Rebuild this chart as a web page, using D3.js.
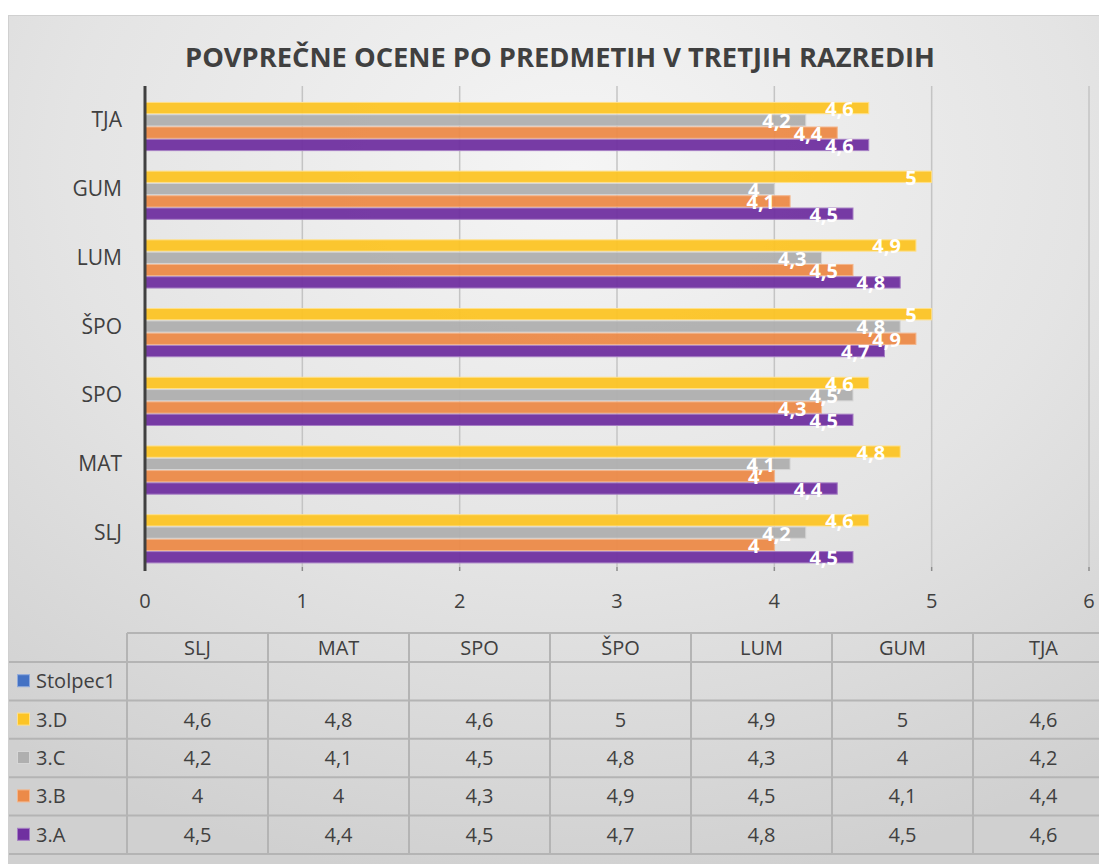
<!DOCTYPE html>
<html>
<head>
<meta charset="utf-8">
<script src="https://cdn.jsdelivr.net/npm/d3@7"></script>
<style>
  body { margin: 0; background: #fff; }
  svg { display: block; font-family: "Open Sans", "DejaVu Sans", sans-serif; }
</style>
</head>
<body>
<svg id="chart" width="1099" height="864"></svg>
<script>

// subjects (bottom to top in the chart, left to right in the table)
var subjects = ["SLJ", "MAT", "SPO", "ŠPO", "LUM", "GUM", "TJA"];

// series in table order (Stolpec1 has no values)
var seriesNames = ["Stolpec1", "3.D", "3.C", "3.B", "3.A"];
var seriesColours = ["#4472c4", "#fcc425", "#afafaf", "#ec8a48", "#7030a0"];
var seriesStrokes = ["#8faadc", "#ffe08a", "#d6d6d6", "#f4b68c", "#a67fc4"];

var valuesStolpec1 = [null, null, null, null, null, null, null];
var values3D = [4.6, 4.8, 4.6, 5, 4.9, 5, 4.6];
var values3C = [4.2, 4.1, 4.5, 4.8, 4.3, 4, 4.2];
var values3B = [4, 4, 4.3, 4.9, 4.5, 4.1, 4.4];
var values3A = [4.5, 4.4, 4.5, 4.7, 4.8, 4.5, 4.6];

var xTicks = [0, 1, 2, 3, 4, 5, 6];

var seriesValues = [valuesStolpec1, values3D, values3C, values3B, values3A];

var svg = d3.select("#chart");
var W = 1099, H = 864;
var textColour = "#404040";

function fmt(v) { return v == null ? "" : String(v).replace(".", ","); }

// background
var defs = svg.append("defs");
var grad = defs.append("radialGradient")
    .attr("id", "bg")
    .attr("cx", "52%").attr("cy", "18%").attr("r", "85%");
grad.append("stop").attr("offset", "0%").attr("stop-color", "#f5f5f5");
grad.append("stop").attr("offset", "55%").attr("stop-color", "#e4e4e4");
grad.append("stop").attr("offset", "100%").attr("stop-color", "#d0d0d0");

svg.append("rect")
    .attr("x", 8.5).attr("y", 15.5)
    .attr("width", W - 8).attr("height", H - 15)
    .attr("fill", "url(#bg)")
    .attr("stroke", "#d0d0d0");

// title
svg.append("text")
    .attr("x", 560).attr("y", 67)
    .attr("text-anchor", "middle")
    .attr("font-size", 26).attr("font-weight", "bold")
    .attr("fill", textColour)
    .attr("textLength", 750).attr("lengthAdjust", "spacingAndGlyphs")
    .text("POVPREČNE OCENE PO PREDMETIH V TRETJIH RAZREDIH");

// scales
var x = d3.scaleLinear().domain([0, 6]).range([145, 1089]);
var plotTop = 86, plotBottom = 567;

var y = d3.scaleBand()
    .domain(subjects.slice().reverse())
    .range([plotTop, plotBottom])
    .paddingInner(0.105)
    .paddingOuter(0.0525);

var ySeries = d3.scaleBand()
    .domain(seriesNames)
    .range([0, y.bandwidth()]);

// gridlines
svg.append("g").attr("class", "grid")
  .selectAll("line")
  .data(xTicks.filter(function(d) { return d > 0; }))
  .enter().append("line")
    .attr("x1", function(d) { return x(d); })
    .attr("x2", function(d) { return x(d); })
    .attr("y1", plotTop)
    .attr("y2", plotBottom)
    .attr("stroke", "#c4c4c4")
    .attr("stroke-width", 1.5);

// bars
var groups = svg.append("g").attr("class", "bars")
  .selectAll("g")
  .data(subjects)
  .enter().append("g")
    .attr("transform", function(d) { return "translate(0," + y(d) + ")"; });

groups.each(function(subj, i) {
    var g = d3.select(this);
    seriesNames.forEach(function(s, si) {
        var v = seriesValues[si][i];
        if (v == null) return;
        g.append("rect")
            .attr("x", x(0))
            .attr("y", ySeries(s) + 0.5)
            .attr("width", x(v) - x(0))
            .attr("height", ySeries.bandwidth() - 1)
            .attr("fill", seriesColours[si])
            .attr("fill-opacity", 0.95)
            .attr("stroke", seriesStrokes[si])
            .attr("stroke-width", 1);
    });
});

// data labels
groups.each(function(subj, i) {
    var g = d3.select(this);
    seriesNames.forEach(function(s, si) {
        var v = seriesValues[si][i];
        if (v == null) return;
        g.append("text")
            .attr("x", x(v) - 15)
            .attr("y", ySeries(s) + ySeries.bandwidth() / 2 + 8)
            .attr("text-anchor", "end")
            .attr("font-size", 20).attr("font-weight", "bold")
            .attr("fill", "#ffffff")
            .text(fmt(v));
    });
});

// y axis line
svg.append("line")
    .attr("x1", x(0)).attr("x2", x(0))
    .attr("y1", plotTop).attr("y2", plotBottom + 4)
    .attr("stroke", textColour).attr("stroke-width", 3);

// category labels
svg.append("g").attr("class", "y-labels")
  .selectAll("text")
  .data(subjects)
  .enter().append("text")
    .attr("x", 122)
    .attr("y", function(d) { return y(d) + y.bandwidth() / 2 + 7; })
    .attr("text-anchor", "end")
    .attr("font-size", 21)
    .attr("fill", textColour)
    .text(function(d) { return d; });

// x ticks and labels
var xAxisG = svg.append("g").attr("class", "x-axis");
xAxisG.selectAll("line")
  .data(xTicks.filter(function(d) { return d > 0; }))
  .enter().append("line")
    .attr("x1", function(d) { return x(d); })
    .attr("x2", function(d) { return x(d); })
    .attr("y1", plotBottom).attr("y2", plotBottom + 4)
    .attr("stroke", "#8c8c8c").attr("stroke-width", 1.5);
xAxisG.selectAll("text")
  .data(xTicks)
  .enter().append("text")
    .attr("x", function(d) { return x(d); })
    .attr("y", 608)
    .attr("text-anchor", "middle")
    .attr("font-size", 20)
    .attr("fill", textColour)
    .text(function(d) { return d; });

// data table
var colX0 = 127, colW = 141;
var headerTop = 633, headerBottom = 662;
var rowH = 38.4;
var tableG = svg.append("g").attr("class", "table");
var lineColour = "#b4b4b4";

// horizontal lines
tableG.append("line")
    .attr("x1", colX0).attr("x2", W)
    .attr("y1", headerTop).attr("y2", headerTop)
    .attr("stroke", lineColour).attr("stroke-width", 2);
for (var r = 0; r <= seriesNames.length; r++) {
    var yy = headerBottom + r * rowH;
    tableG.append("line")
        .attr("x1", 9).attr("x2", W)
        .attr("y1", yy).attr("y2", yy)
        .attr("stroke", lineColour).attr("stroke-width", 2);
}
// vertical lines
for (var c = 0; c <= subjects.length; c++) {
    var xx = colX0 + c * colW;
    tableG.append("line")
        .attr("x1", xx).attr("x2", xx)
        .attr("y1", headerTop).attr("y2", headerBottom + seriesNames.length * rowH)
        .attr("stroke", lineColour).attr("stroke-width", 2);
}

// header texts
tableG.selectAll(".head")
  .data(subjects)
  .enter().append("text")
    .attr("class", "head")
    .attr("x", function(d, i) { return colX0 + i * colW + colW / 2; })
    .attr("y", (headerTop + headerBottom) / 2 + 7)
    .attr("text-anchor", "middle")
    .attr("font-size", 20)
    .attr("fill", textColour)
    .text(function(d) { return d; });

// rows
seriesNames.forEach(function(s, si) {
    var rowTop = headerBottom + si * rowH;
    var cy = rowTop + rowH / 2;
    tableG.append("rect")
        .attr("x", 17.5).attr("y", cy - 6.5)
        .attr("width", 12).attr("height", 12)
        .attr("fill", seriesColours[si])
        .attr("stroke", seriesStrokes[si]);
    tableG.append("text")
        .attr("x", 36).attr("y", cy + 7)
        .attr("font-size", 20)
        .attr("fill", textColour)
        .text(s);
    seriesValues[si].forEach(function(v, i) {
        tableG.append("text")
            .attr("x", colX0 + i * colW + colW / 2)
            .attr("y", cy + 7)
            .attr("text-anchor", "middle")
            .attr("font-size", 20)
            .attr("fill", textColour)
            .text(fmt(v));
    });
});

</script>
</body>
</html>
